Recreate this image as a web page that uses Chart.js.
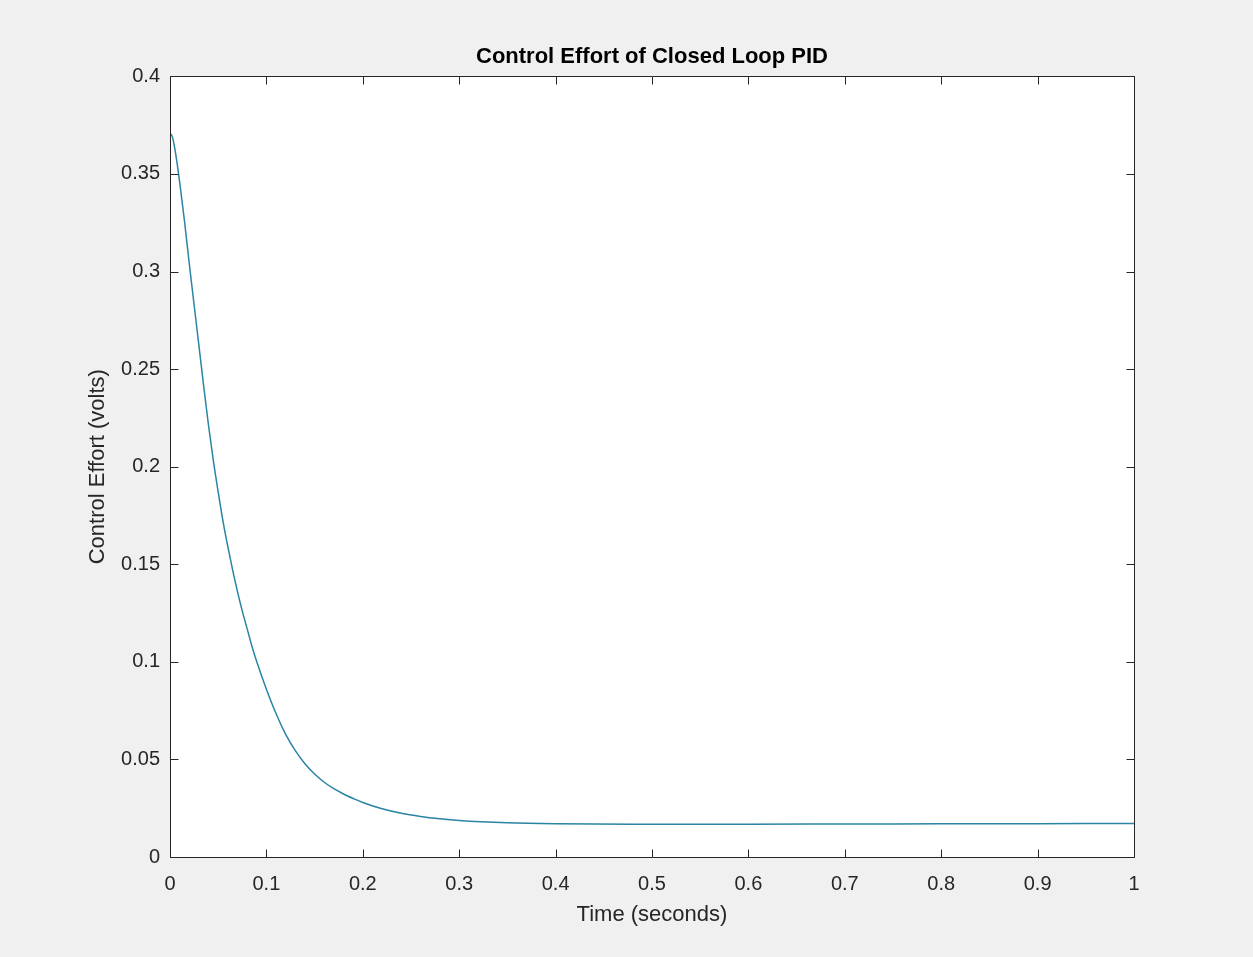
<!DOCTYPE html>
<html>
<head>
<meta charset="utf-8">
<script src="https://cdn.jsdelivr.net/npm/chart.js@4/dist/chart.umd.min.js"></script>
<style>
  html, body { margin: 0; padding: 0; background: #f0f0f0; }
  #wrap { width: 1253px; height: 957px; position: relative; }
</style>
</head>
<body>
<div id="wrap"><canvas id="c"></canvas></div>
<script>
// ---- data ----
const timeSeconds = [0, 0.0025, 0.005, 0.0075, 0.01, 0.015, 0.02, 0.025, 0.03, 0.035, 0.04, 0.045,
  0.05, 0.055, 0.06, 0.065, 0.07, 0.075, 0.08, 0.085, 0.09, 0.1, 0.11, 0.12, 0.13, 0.14, 0.15,
  0.16, 0.17, 0.18, 0.19, 0.2, 0.22, 0.24, 0.26, 0.28, 0.3, 0.35, 0.4, 0.5, 0.6, 0.7, 0.8, 0.9, 1.0];
const controlEffort = [0.371, 0.369, 0.363, 0.355, 0.346, 0.326, 0.304, 0.283, 0.262, 0.241, 0.221, 0.203,
  0.187, 0.172, 0.159, 0.147, 0.136, 0.126, 0.117, 0.108, 0.100, 0.086, 0.0735, 0.0628, 0.0545, 0.0478, 0.0425,
  0.0383, 0.0350, 0.0323, 0.0300, 0.0279, 0.0247, 0.0224, 0.0208, 0.0196, 0.0187, 0.0175, 0.0170, 0.0168,
  0.0168, 0.0169, 0.0170, 0.0171, 0.0172];
const xTickValues = [0, 0.1, 0.2, 0.3, 0.4, 0.5, 0.6, 0.7, 0.8, 0.9, 1];
const xTickLabels = ['0', '0.1', '0.2', '0.3', '0.4', '0.5', '0.6', '0.7', '0.8', '0.9', '1'];
const yTickValues = [0, 0.05, 0.1, 0.15, 0.2, 0.25, 0.3, 0.35, 0.4];
const yTickLabels = ['0', '0.05', '0.1', '0.15', '0.2', '0.25', '0.3', '0.35', '0.4'];
const titleText = 'Control Effort of Closed Loop PID';
const xTitle = 'Time (seconds)';
const yTitle = 'Control Effort (volts)';

const points = timeSeconds.map((t, i) => ({ x: t, y: controlEffort[i] }));
const AX = '#262626';
const FONT = 'Liberation Sans, Arial, Helvetica, sans-serif';

const boxPlugin = {
  id: 'matlabBox',
  beforeDatasetsDraw(chart) {
    const { ctx, chartArea: a } = chart;
    ctx.save();
    ctx.fillStyle = '#ffffff';
    ctx.fillRect(a.left, a.top, a.right - a.left, a.bottom - a.top);
    ctx.restore();
  },
  afterDatasetsDraw(chart) {
    const { ctx, chartArea: a, scales } = chart;
    const L = Math.round(a.left) + 0.5, R = Math.round(a.right) + 0.5;
    const T = Math.round(a.top) + 0.5, B = Math.round(a.bottom) + 0.5;
    const tl = 8;
    ctx.save();
    ctx.strokeStyle = AX;
    ctx.lineWidth = 1;
    ctx.beginPath();
    ctx.rect(L, T, R - L, B - T);
    scales.x.ticks.forEach(tk => {
      const px = Math.round(scales.x.getPixelForValue(tk.value)) + 0.5;
      ctx.moveTo(px, B); ctx.lineTo(px, B - tl);
      ctx.moveTo(px, T); ctx.lineTo(px, T + tl);
    });
    scales.y.ticks.forEach(tk => {
      const py = Math.round(scales.y.getPixelForValue(tk.value)) + 0.5;
      ctx.moveTo(L, py); ctx.lineTo(L + tl, py);
      ctx.moveTo(R, py); ctx.lineTo(R - tl, py);
    });
    ctx.stroke();
    ctx.restore();
  }
};

new Chart(document.getElementById('c'), {
  type: 'line',
  data: {
    datasets: [{
      data: points,
      borderColor: '#2a84a4',
      borderWidth: 1.5,
      pointRadius: 0,
      fill: false,
      cubicInterpolationMode: 'monotone',
      yAxisID: 'y'
    }]
  },
  plugins: [boxPlugin],
  options: {
    responsive: true,
    maintainAspectRatio: false,
    animation: false,
    layout: { padding: { left: 85, right: 34, top: 0, bottom: 0 } },
    plugins: {
      legend: { display: false },
      tooltip: { enabled: false },
      title: {
        display: true,
        text: titleText,
        color: '#000000',
        font: { family: FONT, size: 22, weight: 'bold' },
        padding: { top: 44, bottom: 6 }
      }
    },
    scales: {
      x: {
        type: 'linear',
        min: 0, max: 1,
        afterBuildTicks: s => { s.ticks = xTickValues.map(v => ({ value: v })); },
        afterFit: s => { s.height = 100; },
        grid: { display: false, drawTicks: false },
        border: { display: false },
        ticks: {
          color: AX, padding: 15, maxRotation: 0, autoSkip: false,
          font: { family: FONT, size: 20 },
          callback: (v, i) => xTickLabels[i]
        },
        title: {
          display: true, text: xTitle, color: AX,
          font: { family: FONT, size: 22 },
          padding: { top: 0, bottom: 29 }
        }
      },
      y: {
        type: 'linear',
        position: 'left',
        min: 0, max: 0.4,
        afterBuildTicks: s => { s.ticks = yTickValues.map(v => ({ value: v })); },
        afterFit: s => { s.width = 85; },
        grid: { display: false, drawTicks: false },
        border: { display: false },
        ticks: {
          color: AX, padding: 10, autoSkip: false,
          font: { family: FONT, size: 20 },
          callback: (v, i) => yTickLabels[i]
        },
        title: {
          display: true, text: yTitle, color: AX,
          font: { family: FONT, size: 22 },
          padding: { top: 0, bottom: 0 }
        }
      },
      yRight: {
        type: 'linear',
        position: 'right',
        min: 0, max: 0.4,
        afterFit: s => { s.width = 85; },
        grid: { display: false, drawTicks: false },
        border: { display: false },
        ticks: { display: false }
      }
    }
  }
});
</script>
</body>
</html>
